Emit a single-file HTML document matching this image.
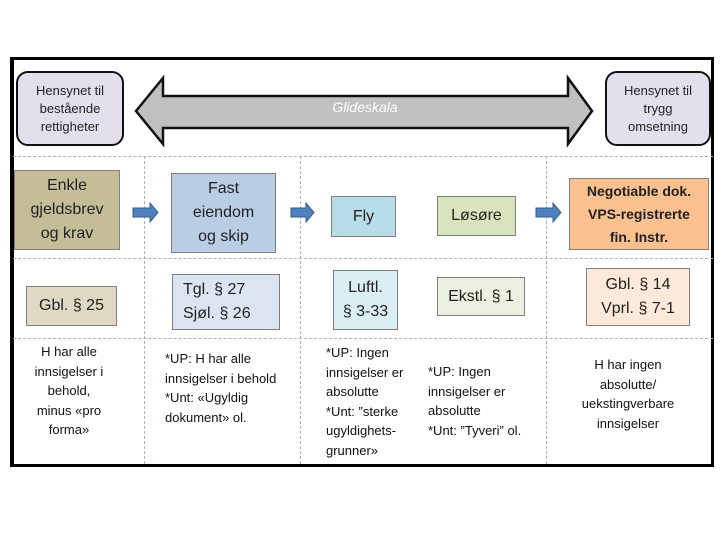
<!DOCTYPE html>
<html><head><meta charset="utf-8"><style>
body{margin:0;width:720px;height:540px;background:#fff;position:relative;overflow:hidden;font-family:"Liberation Sans",sans-serif;}
.a{position:absolute;box-sizing:border-box;}
.bx{position:absolute;box-sizing:border-box;border:1px solid #7f7f7f;display:flex;align-items:center;justify-content:center;text-align:center;font-size:16px;line-height:24px;color:#222;}
.hl{position:absolute;border-top:1px dashed #a6b4c0;height:0;}
.vl{position:absolute;border-left:1px dashed #a6b4c0;width:0;}
.t{position:absolute;font-family:"Liberation Sans Narrow","Liberation Sans",sans-serif;font-size:13px;line-height:19.5px;color:#111;}
.rb{position:absolute;box-sizing:border-box;border:2.5px solid #111;border-radius:12px;background:#e4dfec;display:flex;align-items:center;justify-content:center;text-align:center;font-size:13px;line-height:18px;color:#222;}
</style></head><body>
<div class="a" style="left:10px;top:57px;width:704px;height:410px;border:3px solid #000;border-left-width:4px;"></div>
<div class="hl" style="left:13px;top:156px;width:700px"></div>
<div class="hl" style="left:13px;top:258px;width:700px"></div>
<div class="hl" style="left:13px;top:338px;width:700px"></div>
<div class="vl" style="left:144px;top:156px;height:308px"></div>
<div class="vl" style="left:300px;top:156px;height:308px"></div>
<div class="vl" style="left:546px;top:156px;height:308px"></div>

<div class="rb" style="left:16px;top:71px;width:108px;height:75px">Hensynet til<br>bestående<br>rettigheter</div>
<div class="rb" style="left:605px;top:71px;width:106px;height:75px">Hensynet til<br>trygg<br>omsetning</div>
<svg class="a" style="left:0;top:0" width="720" height="540">
<polygon points="136,111 163,78 163,96 568,96 568,78 592,111 568,144 568,128 163,128 163,144" fill="#c0c0c0" stroke="#111" stroke-width="2.5"/>
<text x="365" y="112" fill="#fff" font-style="italic" font-size="14" text-anchor="middle" font-family="Liberation Sans">Glideskala</text>
<g fill="#4f81bd" stroke="#385d8a" stroke-width="1">
<polygon points="133,208 150,208 150,203 158,212.5 150,222 150,217 133,217"/>
<polygon points="291,208 306,208 306,203 314,212.5 306,222 306,217 291,217"/>
<polygon points="536,208 553,208 553,203 561,212.5 553,222 553,217 536,217"/>
</g>
</svg>

<div class="bx" style="left:14px;top:170px;width:106px;height:80px;background:#c4bd97">Enkle<br>gjeldsbrev<br>og krav</div>
<div class="bx" style="left:171px;top:173px;width:105px;height:80px;background:#b9cde5">Fast<br>eiendom<br>og skip</div>
<div class="bx" style="left:331px;top:196px;width:65px;height:41px;background:#b7dde8">Fly</div>
<div class="bx" style="left:437px;top:196px;width:79px;height:40px;background:#d7e4bd">Løsøre</div>
<div class="bx" style="left:569px;top:178px;width:140px;height:72px;background:#fac090;font-weight:bold;font-size:14px;line-height:23px">Negotiable dok.<br>VPS-registrerte<br>fin. Instr.</div>

<div class="bx" style="left:26px;top:286px;width:91px;height:40px;background:#ddd9c3">Gbl. § 25</div>
<div class="bx" style="left:172px;top:274px;width:108px;height:56px;background:#dbe5f1;justify-content:flex-start;text-align:left;padding-left:10px">Tgl. § 27<br>Sjøl. § 26</div>
<div class="bx" style="left:333px;top:270px;width:65px;height:60px;background:#dbeef4">Luftl.<br>§ 3-33</div>
<div class="bx" style="left:437px;top:277px;width:88px;height:39px;background:#ebf1de">Ekstl. § 1</div>
<div class="bx" style="left:586px;top:268px;width:104px;height:58px;background:#fde9d9">Gbl. § 14<br>Vprl. § 7-1</div>

<div class="t" style="left:16px;top:342px;width:106px;text-align:center">H har alle<br>innsigelser i<br>behold,<br>minus «pro<br>forma»</div>
<div class="t" style="left:165px;top:349px">*UP: H har alle<br>innsigelser i behold<br>*Unt: «Ugyldig<br>dokument» ol.</div>
<div class="t" style="left:326px;top:343px">*UP: Ingen<br>innsigelser er<br>absolutte<br>*Unt: ”sterke<br>ugyldighets-<br>grunner»</div>
<div class="t" style="left:428px;top:362px">*UP: Ingen<br>innsigelser er<br>absolutte<br>*Unt: ”Tyveri” ol.</div>
<div class="t" style="left:566px;top:355px;width:124px;text-align:center">H har ingen<br>absolutte/<br>uekstingverbare<br>innsigelser</div>
</body></html>
